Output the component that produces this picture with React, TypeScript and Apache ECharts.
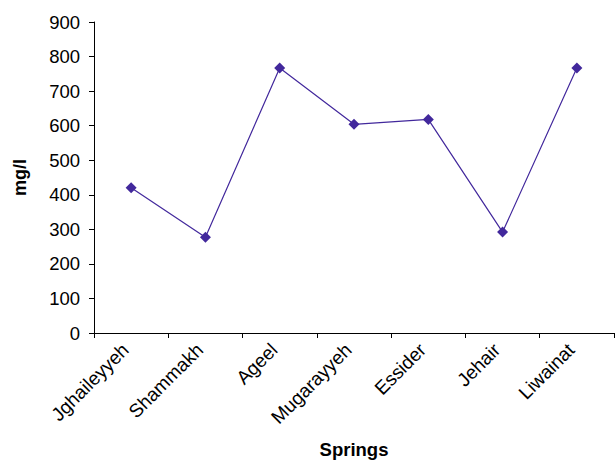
import React, { useEffect, useRef } from "react";
import * as echarts from "echarts";

const springs = ["Jghaileyyeh", "Shammakh", "Ageel", "Mugarayyeh", "Essider", "Jehair", "Liwainat"];
const concentration = [420, 277, 767, 604, 618, 292, 767];
const yTicks = { min: 0, max: 900, interval: 100 };

const FONT = "'Liberation Sans', Arial, sans-serif";
const INK = "#000000";
const SERIES_COLOR = "#42289c";

export default function App() {
  const ref = useRef<HTMLDivElement>(null);

  useEffect(() => {
    if (!ref.current) return;
    const chart = echarts.init(ref.current, undefined, { renderer: "svg" });
    chart.setOption({
      animation: false,
      backgroundColor: "#ffffff",
      grid: { left: 94, right: 2, top: 22, bottom: 128, containLabel: false, outerBoundsMode: "none" },
      xAxis: {
        type: "category",
        data: springs,
        boundaryGap: true,
        name: "Springs",
        nameLocation: "middle",
        nameGap: 107,
        nameTextStyle: { fontFamily: FONT, fontSize: 18.5, fontWeight: "bold", color: INK },
        axisLine: { lineStyle: { color: INK, width: 1 } },
        axisTick: { show: true, alignWithLabel: false, length: 5, lineStyle: { color: INK } },
        axisLabel: {
          rotate: 45,
          interval: 0,
          margin: 8,
          padding: [0, 8, 0, 0],
          fontFamily: FONT,
          fontSize: 19,
          color: INK,
        },
        splitLine: { show: false },
      },
      yAxis: {
        type: "value",
        min: yTicks.min,
        max: yTicks.max,
        interval: yTicks.interval,
        name: "mg/l",
        nameLocation: "middle",
        nameRotate: 90,
        nameGap: 65,
        nameTextStyle: { fontFamily: FONT, fontSize: 18, fontWeight: "bold", color: INK },
        axisLine: { show: true, lineStyle: { color: INK, width: 1 } },
        axisTick: { show: true, length: 5, lineStyle: { color: INK } },
        axisLabel: { margin: 14, fontFamily: FONT, fontSize: 18.5, color: INK },
        splitLine: { show: false },
      },
      series: [
        {
          type: "line",
          data: concentration,
          symbol: "diamond",
          symbolSize: 11,
          lineStyle: { color: SERIES_COLOR, width: 1.2 },
          itemStyle: { color: SERIES_COLOR },
        },
      ],
    });
    return () => chart.dispose();
  }, []);

  return <div ref={ref} style={{ width: 616, height: 461, position: "absolute", left: 0, top: 0 }} />;
}
